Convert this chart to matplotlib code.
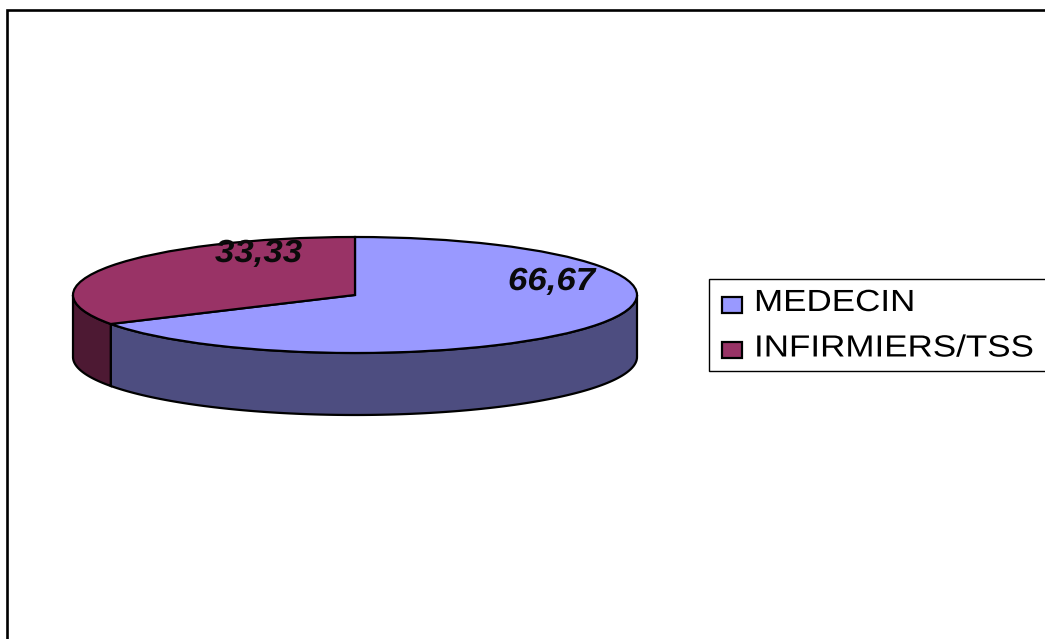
import numpy as np
import matplotlib
matplotlib.use("Agg")
import matplotlib.pyplot as plt
from matplotlib.patches import Polygon, Rectangle
from matplotlib.patheffects import AbstractPathEffect
from matplotlib.transforms import Affine2D

categories = ["MEDECIN", "INFIRMIERS/TSS"]
values = [66.67, 33.33]
value_labels = ["66,67", "33,33"]
top_colors = ["#9999FF", "#993366"]
side_colors = ["#4D4D80", "#4D1933"]

W, H = 1045, 639
plt.rcParams["font.family"] = ["Liberation Sans", "DejaVu Sans"]
fig = plt.figure(figsize=(W / 100, H / 100), dpi=100, facecolor="white")


class WidenGlyphs(AbstractPathEffect):
    """Stretch text horizontally from its anchor, for an expanded typeface."""

    def __init__(self, factor):
        super().__init__()
        self.factor = factor

    def draw_path(self, renderer, gc, tpath, affine, rgbFace=None):
        widened = Affine2D().scale(self.factor, 1) + affine
        renderer.draw_path(gc, tpath, widened, rgbFace)


# Outer chart frame, running off the right and bottom of the canvas
fig.add_artist(Rectangle((6.7 / W, -0.05), 1.1, 1 + 0.05 - 10.2 / H, transform=fig.transFigure,
                         fill=False, edgecolor="black", linewidth=1.9))

# Tilted pie: an axes stretched so the unit circle becomes a flat ellipse
cx, cy, a, b, depth = 355, 295, 282, 58, 62
ax = fig.add_axes([(cx - a) / W, 1 - (cy + b) / H, 2 * a / W, 2 * b / H])
wedges, _ = ax.pie(values, colors=top_colors, startangle=90, counterclock=False, radius=1,
                   wedgeprops=dict(edgecolor="black", linewidth=1.6), normalize=True)
ax.set_aspect("auto")
ax.set_xlim(-1, 1)
ax.set_ylim(-1, 1)
ax.axis("off")
for w in wedges:
    w.set_clip_on(False)
    w.set_zorder(3)

# Visible outer wall: only the front half of the rim (90 to 270 degrees clockwise from the top)
drop = 2 * depth / (2 * b)
edges = np.cumsum([0] + values) / sum(values) * 360
for i in range(len(values)):
    lo, hi = max(edges[i], 90), min(edges[i + 1], 270)
    if hi <= lo:
        continue
    phi = np.radians(np.linspace(lo, hi, 120))
    x, y = np.sin(phi), np.cos(phi)
    pts = np.r_[np.c_[x, y], np.c_[x[::-1], y[::-1] - drop]]
    ax.add_patch(Polygon(pts, closed=True, facecolor=side_colors[i], edgecolor="black",
                         linewidth=1.6, clip_on=False, zorder=2))

# Value labels
label_px = [(508, 282), (215, 254)]
for txt, (px, py) in zip(value_labels, label_px):
    fig.text(px / W, 1 - py / H, txt, fontsize=23, fontweight="bold", fontstyle="italic",
             ha="left", va="center", color="#0a0a0a", zorder=10,
             path_effects=[WidenGlyphs(1.09)])

# Legend
fig.patches.append(Rectangle((708.5 / W, 1 - 371.5 / H), 340 / W, 92.5 / H, transform=fig.transFigure,
                             facecolor="white", edgecolor="black", linewidth=1))
for name, col, py_box, py_txt in zip(categories, top_colors, [304.5, 350], [303, 348.5]):
    fig.patches.append(Rectangle((722 / W, 1 - (py_box + 8) / H), 20 / W, 16 / H, transform=fig.transFigure,
                                 facecolor=col, edgecolor="black", linewidth=1.6))
    fig.text(754 / W, 1 - py_txt / H, name, fontsize=22, ha="left", va="center", color="black",
             path_effects=[WidenGlyphs(1.145)])

fig.savefig("out.png", dpi=100, facecolor="white")
